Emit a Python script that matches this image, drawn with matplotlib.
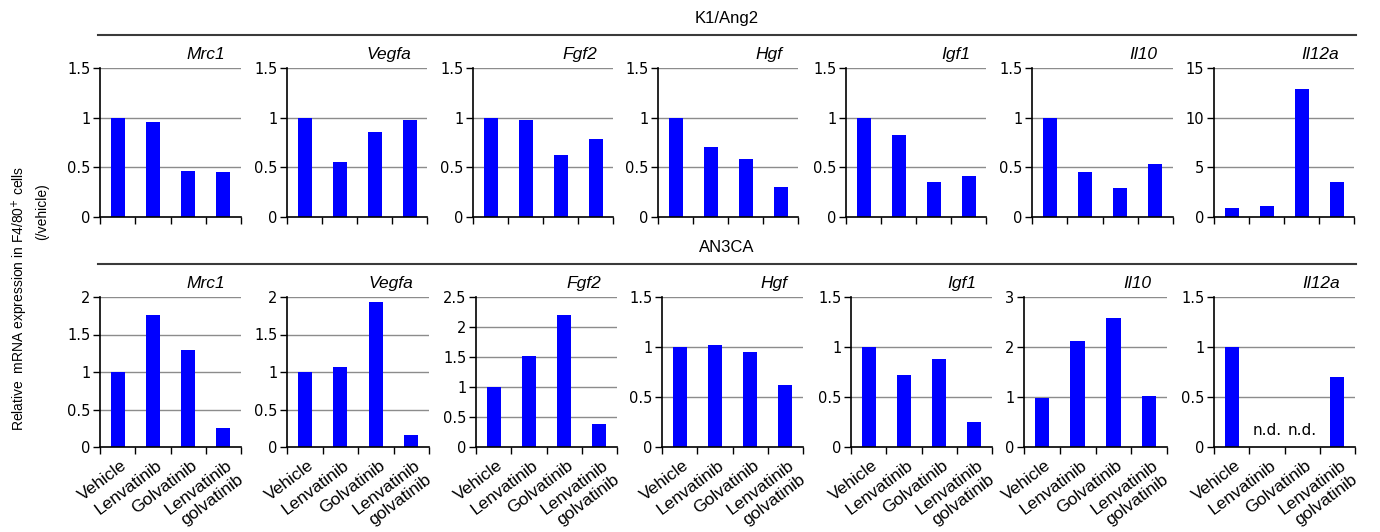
import numpy as np
import matplotlib
matplotlib.use("Agg")
import matplotlib.pyplot as plt
from matplotlib.ticker import MultipleLocator, FixedLocator, NullFormatter

# data
groups = ["Vehicle", "Lenvatinib", "Golvatinib", "Lenvatinib\ngolvatinib"]
genes = ["Mrc1", "Vegfa", "Fgf2", "Hgf", "Igf1", "Il10", "Il12a"]

k1_values = [
    [1.0, 0.96, 0.46, 0.45],
    [1.0, 0.55, 0.86, 0.98],
    [1.0, 0.98, 0.62, 0.79],
    [1.0, 0.70, 0.58, 0.30],
    [1.0, 0.83, 0.35, 0.41],
    [1.0, 0.45, 0.29, 0.53],
    [0.9, 1.07, 12.9, 3.48],
]
k1_ymax = [1.5, 1.5, 1.5, 1.5, 1.5, 1.5, 15]
k1_ystep = [0.5, 0.5, 0.5, 0.5, 0.5, 0.5, 5]

an3_values = [
    [1.0, 1.76, 1.29, 0.25],
    [1.0, 1.07, 1.93, 0.165],
    [1.0, 1.51, 2.2, 0.39],
    [1.0, 1.02, 0.95, 0.62],
    [1.0, 0.72, 0.88, 0.25],
    [0.99, 2.13, 2.59, 1.02],
    [1.0, np.nan, np.nan, 0.70],
]
an3_ymax = [2, 2, 2.5, 1.5, 1.5, 3, 1.5]
an3_ystep = [0.5, 0.5, 0.5, 0.5, 0.5, 1, 0.5]

W, H = 1380, 532

# pixel layout of the panels (left, right)
top_x = [(100, 241), (287, 427), (473, 613), (658, 798), (846, 986), (1032, 1173), (1214, 1354)]
bot_x = [(100, 241), (287, 429), (476, 617), (662, 803), (851, 992), (1024, 1167), (1214, 1355)]
top_y = (68, 217)
bot_y = (297, 447)


def px_rect(x0, x1, y0, y1):
    return [x0 / W, 1 - y1 / H, (x1 - x0) / W, (y1 - y0) / H]


def draw_panel(ax, vals, ymax, ystep, gene, show_labels):
    x = np.arange(len(vals))
    v = np.nan_to_num(np.array(vals, dtype=float))
    ax.bar(x, v, width=0.4, color="#0000ff", zorder=3)
    ax.set_xlim(-0.5, len(vals) - 0.5)
    ax.set_ylim(0, ymax)
    ax.yaxis.set_major_locator(MultipleLocator(ystep))
    ax.yaxis.set_major_formatter(matplotlib.ticker.FuncFormatter(lambda t, p: f"{t:g}"))
    for t in np.arange(ystep, ymax + ystep / 2, ystep):
        ax.axhline(t, color="#8c8c8c", lw=1, zorder=1)
    ax.xaxis.set_major_locator(FixedLocator(np.arange(-0.5, len(vals), 1)))
    ax.xaxis.set_major_formatter(NullFormatter())
    ax.xaxis.set_minor_locator(FixedLocator(x + 0.08))
    if show_labels:
        ax.set_xticklabels(groups, minor=True, rotation=37, ha="right", va="top",
                           rotation_mode="anchor", multialignment="right",
                           fontsize=12.5, family="Liberation Sans")
    else:
        ax.xaxis.set_minor_formatter(NullFormatter())
    ax.tick_params(axis="x", which="minor", length=0, pad=8)
    ax.tick_params(axis="x", which="major", length=5, width=1, direction="out")
    ax.tick_params(axis="y", length=5, width=1, direction="out", labelsize=10.5, pad=2)
    for s in ["top", "right"]:
        ax.spines[s].set_visible(False)
    for s in ["left", "bottom"]:
        ax.spines[s].set_linewidth(1.2)
        ax.spines[s].set_zorder(4)
    ax.text(0.89, 1.04, gene, transform=ax.transAxes, ha="right", va="bottom",
            fontsize=12.5, style="italic", family="Liberation Sans")
    for i, val in enumerate(vals):
        if np.isnan(val):
            ax.text(i, ymax * 0.06, "n.d.", ha="center", va="bottom", fontsize=11)


fig = plt.figure(figsize=(W / 100, H / 100), dpi=100)

for i in range(7):
    ax = fig.add_axes(px_rect(top_x[i][0], top_x[i][1], *top_y))
    draw_panel(ax, k1_values[i], k1_ymax[i], k1_ystep[i], genes[i], False)
    ax = fig.add_axes(px_rect(bot_x[i][0], bot_x[i][1], *bot_y))
    draw_panel(ax, an3_values[i], an3_ymax[i], an3_ystep[i], genes[i], True)

# group headers with their lines
for label, ty, ly in [("K1/Ang2", 18, 35), ("AN3CA", 248, 264)]:
    fig.text(727 / W, 1 - ty / H, label, ha="center", va="center",
             fontsize=12, family="Liberation Sans")
    fig.add_artist(plt.Line2D([98 / W, 1356 / W], [1 - ly / H, 1 - ly / H],
                              color="#3a3a3a", lw=1.5))

fig.text(20 / W, 1 - 298 / H, "Relative  mRNA expression in F4/80$^{+}$ cells",
         rotation=90, ha="center", va="center", fontsize=10, family="Liberation Sans")
fig.text(42 / W, 1 - 212 / H, "(/vehicle)", rotation=90, ha="center", va="center",
         fontsize=10, family="Liberation Sans")

fig.savefig("out.png", dpi=100)
